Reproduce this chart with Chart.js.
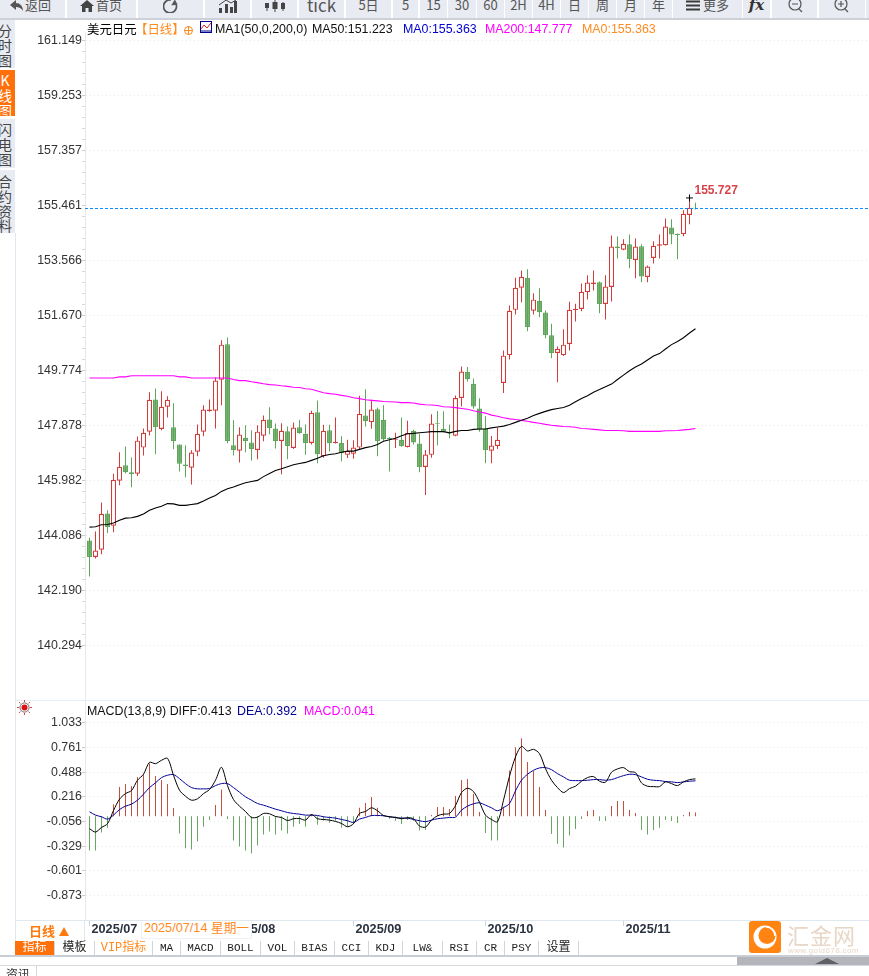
<!DOCTYPE html>
<html lang="zh">
<head>
<meta charset="utf-8">
<title>美元日元</title>
<script src="https://cdn.jsdelivr.net/npm/chart.js@4"></script>
<style>
html,body{margin:0;padding:0;background:#fff;overflow:hidden}
#page{position:relative;width:869px;height:976px;overflow:hidden;font-family:"Liberation Sans","Noto Sans CJK SC",sans-serif;background:#fff}
#page div,#page span{position:absolute;white-space:nowrap}
canvas{position:absolute}
.btn{top:0;height:18px;background:#e9ebf2;color:#555;text-align:center;line-height:10px;font-size:13px;overflow:hidden;font-family:"Noto Sans CJK SC","Liberation Sans",sans-serif}
.side{left:0;width:15px;overflow:hidden;background:#e9ebf2;color:#444;font:14px/14.5px "Noto Sans CJK SC",sans-serif}
.side span{left:-2px;width:14px;text-align:center}
.hd{top:22px;font-size:12.4px;line-height:14px}
.md{top:704px;font-size:12.4px;line-height:14px}
.tab{top:941px;height:14px;background:#fff;border-right:1px solid #cfd6de;text-align:center;color:#222;line-height:15px;font-family:"Liberation Mono",monospace;font-size:11px}
.cn{font-family:"Liberation Mono","Noto Sans CJK SC",sans-serif;font-size:12px}
svg{position:absolute}
</style>
</head>
<body>
<div id="page">
  <canvas id="kline" width="853" height="668" style="left:16px;top:32px"></canvas>
  <canvas id="macd" width="853" height="240" style="left:16px;top:700px"></canvas>
  <div style="left:0;top:18px;width:869px;height:2px;background:#cfd1d8"></div>
  <div id="toolbar"></div>
  <div id="sidebar"></div>
  <div style="left:15px;top:233px;width:1px;height:722px;background:#dfe7ef"></div>
  <div style="left:15px;top:700px;width:854px;height:1px;background:#e6edf3"></div>
  <div style="left:15px;top:920px;width:854px;height:1px;background:#dfe7ef"></div>
  <div style="left:84px;top:921px;width:1px;height:19px;background:#dfe7ef"></div>

  <div class="hd" style="left:87px;color:#000;font-family:'Noto Sans CJK SC'">美元日元</div>
  <div class="hd" style="left:135px;color:#ff8a1e;font-family:'Noto Sans CJK SC'">【日线】</div>
  <svg style="left:183px;top:25px" width="11" height="11"><circle cx="5.5" cy="5.5" r="4" fill="none" stroke="#ff8a1e"/><path d="M1 5.5H10M5.5 1V10" stroke="#ff8a1e"/></svg>
  <svg style="left:200px;top:21px" width="12" height="13"><rect x=".5" y=".5" width="11" height="11" fill="#fff" stroke="#000090"/><path d="M1 8L4 4L7 7L11 2" fill="none" stroke="#e02020"/><path d="M1 10H11" stroke="#000090"/></svg>
  <div class="hd" style="left:215px;color:#111">MA1(50,0,200,0)</div>
  <div class="hd" style="left:312px;color:#111">MA50:151.223</div>
  <div class="hd" style="left:403px;color:#0000d0">MA0:155.363</div>
  <div class="hd" style="left:485px;color:#ff00ff">MA200:147.777</div>
  <div class="hd" style="left:582px;color:#ff8a1e">MA0:155.363</div>

  <svg style="left:17px;top:700px" width="15" height="15"><circle cx="7.5" cy="7.5" r="3" fill="#e01010"/><circle cx="7.5" cy="7.5" r="4.6" fill="none" stroke="#333" stroke-width=".7"/><path d="M7.5 0V2M7.5 13V15M0 7.5H2M13 7.5H15M2 2L3.4 3.4M11.6 11.6L13 13M13 2L11.6 3.4M3.4 11.6L2 13" stroke="#e01010" stroke-width=".8"/></svg>
  <div class="md" style="left:87px;color:#111">MACD(13,8,9) DIFF:0.413</div>
  <div class="md" style="left:237px;color:#000090">DEA:0.392</div>
  <div class="md" style="left:304px;color:#ff00ff">MACD:0.041</div>

  <div style="left:29px;top:923px;color:#ff7a0e;font:bold 13px/16px 'Noto Sans CJK SC',sans-serif">日线</div>
  <svg style="left:59px;top:927px" width="10" height="9"><path d="M5 0L10 9H0Z" fill="#ff7a0e"/></svg>
  <div style="left:141px;top:921px;width:109px;height:17px;background:#fff;border:1px solid #eef1f5;border-width:0 1px 1px 1px;color:#ff8a1e;font:12.7px/15px 'Liberation Sans','Noto Sans CJK SC',sans-serif;text-align:center">2025/07/14 星期一</div>

  <div id="tabs"></div>

  <div style="left:0;top:955px;width:869px;height:2px;background:#c9ced6"></div>
  <div style="left:737px;top:957px;width:132px;height:8px;background:#b4b5ba"></div>
  <svg style="left:815px;top:957px" width="24" height="8"><path d="M12 1L24 7H0Z" fill="#5f6065"/></svg>
  <div style="left:0;top:965px;width:869px;height:1px;background:#d5d8dd"></div>
  <div style="left:36px;top:966px;width:1px;height:10px;background:#d5d8dd"></div>
  <div style="left:6px;top:967px;font:12px/14px 'Noto Sans CJK SC',sans-serif;color:#333">资讯</div>

  <div style="left:749px;top:921px;width:32px;height:32px;border-radius:3px;background:#ff8412"></div>
  <svg style="left:749px;top:921px" width="32" height="32"><circle cx="16" cy="16" r="11.5" fill="#fff"/><circle cx="18" cy="14.5" r="8.5" fill="#ff8412"/><path d="M17 6A9 9 0 0 1 26 15" fill="none" stroke="#fff" stroke-width="1.6"/></svg>
  <div style="left:787px;top:921px;color:#e8d6c6;font:22px/26px 'Noto Sans CJK SC',sans-serif;letter-spacing:1px">汇金网</div>
  <div style="left:788px;top:946px;color:#e8d6c6;font:8px/10px 'Liberation Sans',sans-serif;letter-spacing:.4px">www.gold678.com</div>
</div>

<script>
/* --- price data, one entry per trading day starting 2025/07/01 --- */
const opens = [143.92,143.35,143.60,144.85,144.43,145.98,146.51,146.27,146.22,147.12,
147.67,148.78,147.76,148.53,147.82,147.23,146.54,146.43,146.98,147.67,
148.38,148.39,149.46,150.68,147.20,147.01,147.46,147.30,147.04,147.53,
148.09,147.78,147.35,147.68,147.11,147.82,147.60,147.28,148.34,146.82,
147.72,147.28,147.29,146.87,146.91,147.12,148.23,148.00,148.44,148.08,
147.45,147.38,147.39,147.14,147.70,147.26,146.45,146.87,147.96,147.77,
147.66,147.53,148.83,149.73,149.32,148.47,147.76,147.01,147.18,149.35,
150.31,151.87,152.63,152.98,151.84,152.18,151.78,150.99,150.38,150.31,
150.69,151.86,151.90,152.48,152.76,152.82,152.07,152.66,154.05,153.94,
154.13,153.59,154.06,153.00,153.66,154.08,154.10,154.71,154.49,154.48,
155.14,155.39];
const highs = [144.01,144.23,145.23,144.96,146.22,146.96,147.16,146.78,147.50,147.78,
149.03,149.16,149.06,148.89,148.65,147.23,147.20,147.03,147.92,148.58,
148.78,149.54,150.82,150.92,148.06,147.82,147.89,147.72,147.89,148.23,
148.51,147.95,147.96,147.85,147.99,148.08,147.92,148.39,148.74,147.91,
147.91,148.16,147.51,147.39,147.37,148.91,149.13,148.77,148.50,148.58,
147.49,147.63,148.16,148.05,147.74,147.60,147.04,148.27,148.38,148.37,
147.92,148.92,149.92,149.90,149.50,148.82,148.20,147.52,147.81,150.47,
152.02,152.98,153.23,153.27,152.44,152.61,151.85,151.39,150.61,151.20,
152.15,152.08,152.78,153.06,153.23,152.85,153.06,154.43,154.40,154.30,
154.47,154.33,154.13,153.40,154.23,154.47,155.02,154.99,154.50,155.30,
155.727,155.56];
const lows = [142.68,143.30,143.44,144.18,144.20,145.82,146.23,145.75,146.14,146.85,
147.54,146.89,147.72,148.16,147.06,146.30,146.10,145.85,146.82,147.51,
148.36,147.78,148.58,147.27,146.85,146.61,146.96,146.68,146.72,147.34,
147.58,147.09,146.20,146.72,147.07,147.60,146.87,147.23,146.58,146.77,
146.99,147.26,146.65,146.76,146.74,147.05,147.85,147.77,146.82,147.36,
146.30,147.11,147.15,147.12,147.23,146.27,145.49,146.77,147.20,147.65,
147.44,147.51,148.54,149.40,148.46,147.67,146.58,146.58,147.07,149.00,
150.16,151.71,152.13,151.13,151.71,151.61,150.89,150.20,149.37,150.28,
150.47,151.47,151.82,152.23,152.54,151.75,151.54,152.16,153.64,153.92,
153.30,152.96,152.82,152.82,153.47,153.64,154.09,154.13,153.61,154.41,
154.82,155.33];
const closes = [143.35,143.57,144.84,144.38,146.01,146.46,146.27,146.21,147.36,147.63,
148.77,147.83,148.53,148.77,147.35,146.56,146.49,146.95,147.60,148.43,
148.43,149.43,150.67,147.35,147.04,147.57,147.35,147.07,147.67,148.08,
147.80,147.35,147.70,147.18,147.81,147.62,147.28,148.32,146.89,147.70,
147.27,147.32,146.93,147.01,147.12,148.29,148.03,148.43,147.35,147.41,
147.42,147.41,147.18,147.62,147.30,146.44,146.88,147.95,147.93,147.67,
147.61,148.83,149.74,149.48,148.54,147.74,147.04,147.19,147.39,150.29,
151.84,152.63,153.01,151.28,152.22,151.79,151.00,150.38,150.53,150.67,
151.87,151.91,152.49,152.81,152.81,152.07,152.67,154.05,154.00,154.15,
153.61,154.05,153.02,153.36,154.08,154.13,154.74,154.47,154.45,155.18,
155.39,155.363];
const ma50 = [144.38,144.39,144.46,144.47,144.52,144.62,144.69,144.70,144.75,144.83,
144.96,145.04,145.10,145.19,145.18,145.13,145.13,145.16,145.19,145.28,
145.38,145.47,145.61,145.70,145.76,145.84,145.91,145.95,145.99,146.12,
146.23,146.33,146.39,146.46,146.53,146.57,146.61,146.68,146.75,146.84,
146.88,146.91,146.96,147.00,147.00,147.06,147.12,147.16,147.23,147.34,
147.39,147.44,147.53,147.60,147.61,147.63,147.65,147.67,147.67,147.67,
147.63,147.68,147.71,147.71,147.75,147.76,147.76,147.80,147.83,147.86,
147.92,147.99,148.06,148.13,148.23,148.30,148.37,148.43,148.47,148.50,
148.58,148.70,148.81,148.91,149.03,149.12,149.22,149.31,149.47,149.62,
149.77,149.90,150.00,150.14,150.28,150.36,150.52,150.67,150.78,150.91,
151.07,151.22];
const ma200 = [149.52,149.52,149.52,149.52,149.52,149.56,149.56,149.60,149.60,149.60,
149.60,149.60,149.60,149.60,149.60,149.56,149.56,149.52,149.52,149.52,
149.52,149.52,149.52,149.52,149.47,149.43,149.43,149.39,149.36,149.32,
149.29,149.28,149.25,149.23,149.20,149.19,149.15,149.13,149.07,149.01,
148.98,148.96,148.92,148.89,148.84,148.81,148.77,148.75,148.73,148.71,
148.70,148.69,148.67,148.67,148.66,148.62,148.60,148.59,148.57,148.53,
148.52,148.50,148.47,148.44,148.39,148.35,148.31,148.24,148.20,148.15,
148.11,148.09,148.06,148.03,147.99,147.96,147.92,147.89,147.87,147.85,
147.84,147.82,147.78,147.77,147.75,147.73,147.71,147.71,147.71,147.70,
147.68,147.68,147.68,147.68,147.68,147.68,147.70,147.70,147.71,147.73,
147.75,147.78];
const diff = [-0.137,-0.174,-0.123,-0.082,0.064,0.189,0.251,0.284,0.398,0.464,
0.596,0.581,0.618,0.640,0.453,0.288,0.222,0.178,0.193,0.251,
0.295,0.398,0.541,0.339,0.185,0.112,0.053,-0.013,-0.009,0.031,
0.028,-0.002,-0.013,-0.046,-0.027,-0.024,-0.042,0.020,-0.027,-0.035,
-0.042,-0.057,-0.079,-0.115,-0.082,0.031,0.053,0.094,0.061,0.009,
-0.005,-0.013,-0.027,-0.016,-0.027,-0.108,-0.119,-0.042,0.006,0.024,
0.031,0.119,0.262,0.310,0.273,0.156,0.013,-0.035,-0.060,0.178,
0.442,0.655,0.772,0.721,0.739,0.691,0.526,0.398,0.317,0.262,
0.306,0.332,0.387,0.427,0.438,0.387,0.376,0.486,0.523,0.537,
0.493,0.482,0.369,0.332,0.328,0.328,0.380,0.361,0.339,0.380,
0.405,0.413];
const dea = [0.050,0.013,-0.005,-0.031,0.013,0.075,0.112,0.134,0.178,0.244,
0.317,0.369,0.427,0.453,0.460,0.416,0.361,0.317,0.303,0.303,
0.306,0.339,0.361,0.361,0.317,0.266,0.215,0.178,0.141,0.123,
0.101,0.079,0.061,0.042,0.031,0.024,0.013,0.013,0.009,-0.005,
-0.013,-0.020,-0.035,-0.049,-0.068,-0.031,-0.013,0.009,0.009,0.006,
-0.005,-0.013,-0.020,-0.020,-0.035,-0.049,-0.060,-0.042,-0.027,-0.020,
-0.013,-0.009,0.068,0.112,0.138,0.149,0.123,0.094,0.061,0.097,
0.141,0.281,0.398,0.464,0.508,0.534,0.537,0.515,0.471,0.435,
0.398,0.394,0.394,0.398,0.405,0.405,0.398,0.405,0.427,0.449,
0.464,0.460,0.435,0.409,0.398,0.394,0.383,0.380,0.372,0.380,
0.387,0.392];
const macdHist = [-0.378,-0.378,-0.180,-0.125,0.132,0.323,0.356,0.334,0.433,0.462,
0.583,0.444,0.400,0.356,0.092,-0.191,-0.352,-0.367,-0.279,-0.114,
-0.040,0.125,0.297,-0.029,-0.268,-0.334,-0.378,-0.411,-0.323,-0.202,
-0.169,-0.202,-0.158,-0.191,-0.114,-0.084,-0.114,0.026,-0.092,-0.048,
-0.070,-0.048,-0.125,-0.114,-0.081,0.095,0.147,0.213,0.095,0.015,
-0.026,-0.048,-0.084,-0.040,-0.048,-0.158,-0.150,0.015,0.103,0.103,
0.081,0.224,0.400,0.411,0.249,0.048,-0.183,-0.268,-0.268,0.103,
0.506,0.763,0.862,0.598,0.499,0.323,0.070,-0.194,-0.304,-0.345,
-0.213,-0.139,-0.029,0.059,0.070,-0.051,-0.051,0.114,0.169,0.169,
0.070,0.037,-0.150,-0.202,-0.150,-0.125,-0.040,-0.051,-0.073,0.015,
0.048,0.041];

const priceTicks = [161.149,159.253,157.357,155.461,153.566,151.670,149.774,147.878,145.982,144.086,142.190,140.294];
const macdTicks = [1.033,0.761,0.488,0.216,-0.056,-0.329,-0.601,-0.873];
const monthLabels = ['2025/07','2025/08','2025/09','2025/10','2025/11'];
const monthStarts = [0,23,44,66,89];
const lastPriceLine = 155.363;
const highLabel = '155.727';
const highLabelIndex = 100;

/* --- styles --- */
const RED='#d23c3a', GREEN='#5fa55b', HIST_RED='#c4503f', HIST_GREEN='#6aa564';
const SCALE_FONT={family:'"Liberation Sans",sans-serif',size:12.4};
const idx = opens.map((_,i)=>i);
const up = opens.map((o,i)=>closes[i]>=o);
const pts = a => a.map((y,x)=>({x,y}));
const X_MIN=-0.75, X_MAX=129.917;

Chart.defaults.animation=false;
Chart.defaults.font.family=SCALE_FONT.family;

const xScale = {type:'linear',offset:false,min:X_MIN,max:X_MAX,display:false,grid:{display:false}};

function noPad(s){ s.paddingTop=0; s.paddingBottom=0; s.paddingLeft=0; s.paddingRight=0; }
function majorMinor(list){
  const out=[];
  list.forEach((v,i)=>{
    out.push({value:v,major:true});
    if(i<list.length-1) for(let k=1;k<5;k++) out.push({value:v+(list[i+1]-v)*k/5,major:false});
  });
  return out;
}
function yScale(min,max,ticks,withMinor){
  return {
    min,max,
    afterBuildTicks(s){ s.ticks = withMinor?majorMinor(ticks):ticks.map(value=>({value,major:true})); },
    afterFit(s){ s.width=69; noPad(s); },
    border:{color:'#e8e8e8',dash:[1,3]},
    grid:{color:c=>c.tick&&c.tick.major?'#e9e9e9':'rgba(0,0,0,0)',tickColor:c=>c.tick&&c.tick.major?'#cccccc':'#d8d8d8',tickLength:3,tickWidth:1},
    ticks:{autoSkip:false,padding:0,color:'#333',font:SCALE_FONT,
      callback(v,i,all){ return all[i].major?Number(v).toFixed(3):''; }}
  };
}

const highLabelPlugin={
  id:'highLabelPlugin',
  afterDatasetsDraw(chart){
    const {ctx,scales}=chart;
    const px=scales.x.getPixelForValue(highLabelIndex), py=scales.y.getPixelForValue(highs[highLabelIndex]);
    ctx.save();
    ctx.font='bold 12px "Liberation Sans",sans-serif';
    ctx.fillStyle='#d8434a';
    ctx.textBaseline='middle';
    ctx.fillText(highLabel,px+5,py-7);
    ctx.restore();
  }
};
const monthTickPlugin={
  id:'monthTickPlugin',
  afterDraw(chart){
    const {ctx,scales,chartArea}=chart;
    ctx.save();
    ctx.fillStyle='#ccd6df';
    monthStarts.forEach(m=>{
      ctx.fillRect(Math.floor(scales.x.getPixelForValue(m)),chartArea.bottom+1,1,5);
    });
    ctx.restore();
  }
};

new Chart(document.getElementById('kline'),{
  type:'bar',
  plugins:[highLabelPlugin],
  data:{datasets:[
    {type:'line',label:'MA50',data:pts(ma50),borderColor:'#000',borderWidth:1.1,pointRadius:0,order:0},
    {type:'line',label:'MA200',data:pts(ma200),borderColor:'#ff00ff',borderWidth:1.1,pointRadius:0,order:0},
    {type:'line',label:'last',data:[{x:X_MIN,y:lastPriceLine},{x:X_MAX,y:lastPriceLine}],borderColor:'#0a8cff',borderWidth:1,borderDash:[3,2],pointRadius:0,order:-1},
    {type:'line',label:'high',data:[{x:highLabelIndex,y:highs[highLabelIndex]}],showLine:false,pointStyle:'cross',pointRadius:3.5,pointBorderColor:'#000',pointBorderWidth:1,order:-2},
    {label:'body',grouped:false,order:1,barThickness:5,inflateAmount:0,borderSkipped:false,borderWidth:1.2,
      data:idx.map(i=>({x:i,y:[opens[i],closes[i]]})),
      backgroundColor:idx.map(i=>up[i]?'#fff':GREEN),
      borderColor:idx.map(i=>up[i]?RED:GREEN)},
    {label:'wick',grouped:false,order:2,barThickness:1,inflateAmount:0,borderSkipped:false,borderWidth:0,
      data:idx.map(i=>({x:i,y:[lows[i],highs[i]]})),
      backgroundColor:idx.map(i=>up[i]?RED:GREEN)}
  ]},
  options:{
    responsive:false,maintainAspectRatio:false,
    layout:{padding:0,autoPadding:false},
    plugins:{legend:{display:false},tooltip:{enabled:false}},
    scales:{x:xScale,y:yScale(138.4195,161.4476,priceTicks,true)}
  }
});

new Chart(document.getElementById('macd'),{
  type:'bar',
  plugins:[monthTickPlugin],
  data:{datasets:[
    {type:'line',label:'DIFF',data:pts(diff),borderColor:'#000',borderWidth:1,pointRadius:0,tension:0.3,order:0},
    {type:'line',label:'DEA',data:pts(dea),borderColor:'#00009a',borderWidth:1,pointRadius:0,tension:0.3,order:0},
    {label:'MACD',grouped:false,order:1,barThickness:1,inflateAmount:0,borderWidth:0,
      data:pts(macdHist),
      backgroundColor:macdHist.map(v=>v>=0?HIST_RED:HIST_GREEN)}
  ]},
  options:{
    responsive:false,maintainAspectRatio:false,
    layout:{padding:0,autoPadding:false},
    plugins:{legend:{display:false},tooltip:{enabled:false}},
    scales:{
      x:{type:'linear',offset:false,min:X_MIN,max:X_MAX,position:'bottom',
        afterBuildTicks(s){ s.ticks=monthStarts.map(value=>({value})); },
        afterFit(s){ s.height=20; noPad(s); },
        border:{display:false},
        grid:{drawOnChartArea:false,drawTicks:true,tickLength:5,tickColor:'rgba(0,0,0,0)'},
        ticks:{autoSkip:false,maxRotation:0,align:'start',padding:-3,labelOffset:2,color:'#2b3340',
          font:{family:'"Liberation Sans",sans-serif',size:12.7,weight:'bold'},
          callback(v){ return monthLabels[monthStarts.indexOf(v)]||''; }}},
      y:yScale(-1.1446,1.2837,macdTicks,false)
    }
  }
});

/* --- surrounding page furniture --- */
const toolbar=document.getElementById('toolbar');
const ic={
 back:'<svg style="left:9px;top:0" width="15" height="11"><path d="M7 0L1 5L7 10V7C10 7 12 8 14 11C14 6 11 3 7 3Z" fill="#555"/></svg>',
 home:'<svg style="left:13px;top:0" width="14" height="12"><path d="M7 0L14 6H12V12H8.5V8H5.5V12H2V6H0Z" fill="#444"/></svg>',
 refresh:'<svg style="left:25px;top:0" width="16" height="13"><path d="M13 4A6.5 6.5 0 1 1 8 0" fill="none" stroke="#555" stroke-width="1.7"/><path d="M10 0V7L15 3Z" fill="#555" transform="rotate(30 12 3)"/></svg>',
 bars:'<svg style="left:13px;top:0" width="20" height="13"><path d="M1 13V8H4V13ZM7 13V4H10V13ZM12 13V7H15V13ZM16 13V1H19V13Z" fill="#444"/><path d="M1 5L8 0L13 3L18 0" stroke="#444" fill="none"/></svg>',
 candle:'<svg style="left:12px;top:0" width="22" height="12"><path d="M3 3V11M11 0V12M19 2V11" stroke="#444"/><path d="M1 3H5V8H1ZM8.5 2H13.5V9H8.5ZM17 3H21V9H17Z" fill="#444"/></svg>',
 more:'<svg style="left:13px;top:0" width="14" height="12"><path d="M0 1.5H14M0 5.5H14M0 9.5H14" stroke="#3a3a3a" stroke-width="2"/></svg>',
 fx:'<div style="left:0;width:27px;top:0;font:italic bold 15px/11px \'DejaVu Serif\',serif;color:#333;text-align:center">fx</div>',
 minus:'<svg style="left:16px;top:0" width="16" height="13"><circle cx="7" cy="4" r="6" fill="none" stroke="#555" stroke-width="1.2"/><path d="M4 4H10M11 9L14 12" stroke="#555" stroke-width="1.2"/></svg>',
 plus:'<svg style="left:15px;top:0" width="16" height="13"><circle cx="7" cy="4" r="6" fill="none" stroke="#555" stroke-width="1.2"/><path d="M4 4H10M7 1V7M11 9L14 12" stroke="#555" stroke-width="1.2"/></svg>'
};
[[0,65,ic.back,'返回',25],[67,69,ic.home,'首页',29],[138,65,ic.refresh],[205,45,ic.bars],[252,45,ic.candle],
 [299,45,'','tick',0,'17px'],[346,45,'','5日'],[393,25,'','5'],[420,27,'','15'],[448,28,'','30'],[477,27,'','60'],
 [505,27,'','2H'],[533,27,'','4H'],[561,27,'','日'],[589,27,'','周'],[617,27,'','月'],[645,27,'','年'],
 [673,69,ic.more,'更多',30],[743,27,ic.fx],[772,45,ic.minus],[819,46,ic.plus],[866,3,'']].forEach(b=>{
  const d=document.createElement('div');
  d.className='btn';d.style.left=b[0]+'px';d.style.width=b[1]+'px';
  let html=b[2]||'';
  if(b[3]){
    const st=b[4]?`left:${b[4]}px;`:'left:0;width:100%;';
    html+=`<span style="${st}top:0;${b[5]?'font-size:'+b[5]+';':''}">${b[3]}</span>`;
  }
  d.innerHTML=html;
  toolbar.appendChild(d);
});

const sidebar=document.getElementById('sidebar');
[[20,48,'分时图',false,3],[70,46,'K线图',true,3],[119,49,'闪电图',false,3],[170,63,'合约资料',false,4]].forEach(s=>{
  const d=document.createElement('div');
  d.className='side';d.style.top=s[0]+'px';d.style.height=s[1]+'px';
  if(s[3]){d.style.background='#ff6f0a';d.style.color='#fff';}
  [...s[2]].forEach((ch,i)=>{
    const c=document.createElement('span');c.textContent=ch;c.style.top=(s[4]+i*14.8)+'px';
    d.appendChild(c);
  });
  sidebar.appendChild(d);
});

const tabs=document.getElementById('tabs');
[[15,39,'指标','cn',1],[55,39,'模板','cn'],[95,57,'VIP指标','cn',2],[153,27,'MA'],[181,39,'MACD'],[221,39,'BOLL'],[261,33,'VOL'],
 [295,39,'BIAS'],[335,33,'CCI'],[369,33,'KDJ'],[403,39,'LW&amp;'],[443,33,'RSI'],[477,27,'CR'],[505,33,'PSY'],[539,39,'设置','cn']].forEach(t=>{
  const d=document.createElement('div');
  d.className='tab'+(t[3]==='cn'?' cn':'');
  d.style.left=t[0]+'px';d.style.width=t[1]+'px';d.innerHTML=t[2];
  if(t[4]===1){d.style.background='#ff6f0a';d.style.color='#fff';}
  if(t[4]===2){d.style.color='#ff8a1e';}
  tabs.appendChild(d);
});
</script>
</body>
</html>
